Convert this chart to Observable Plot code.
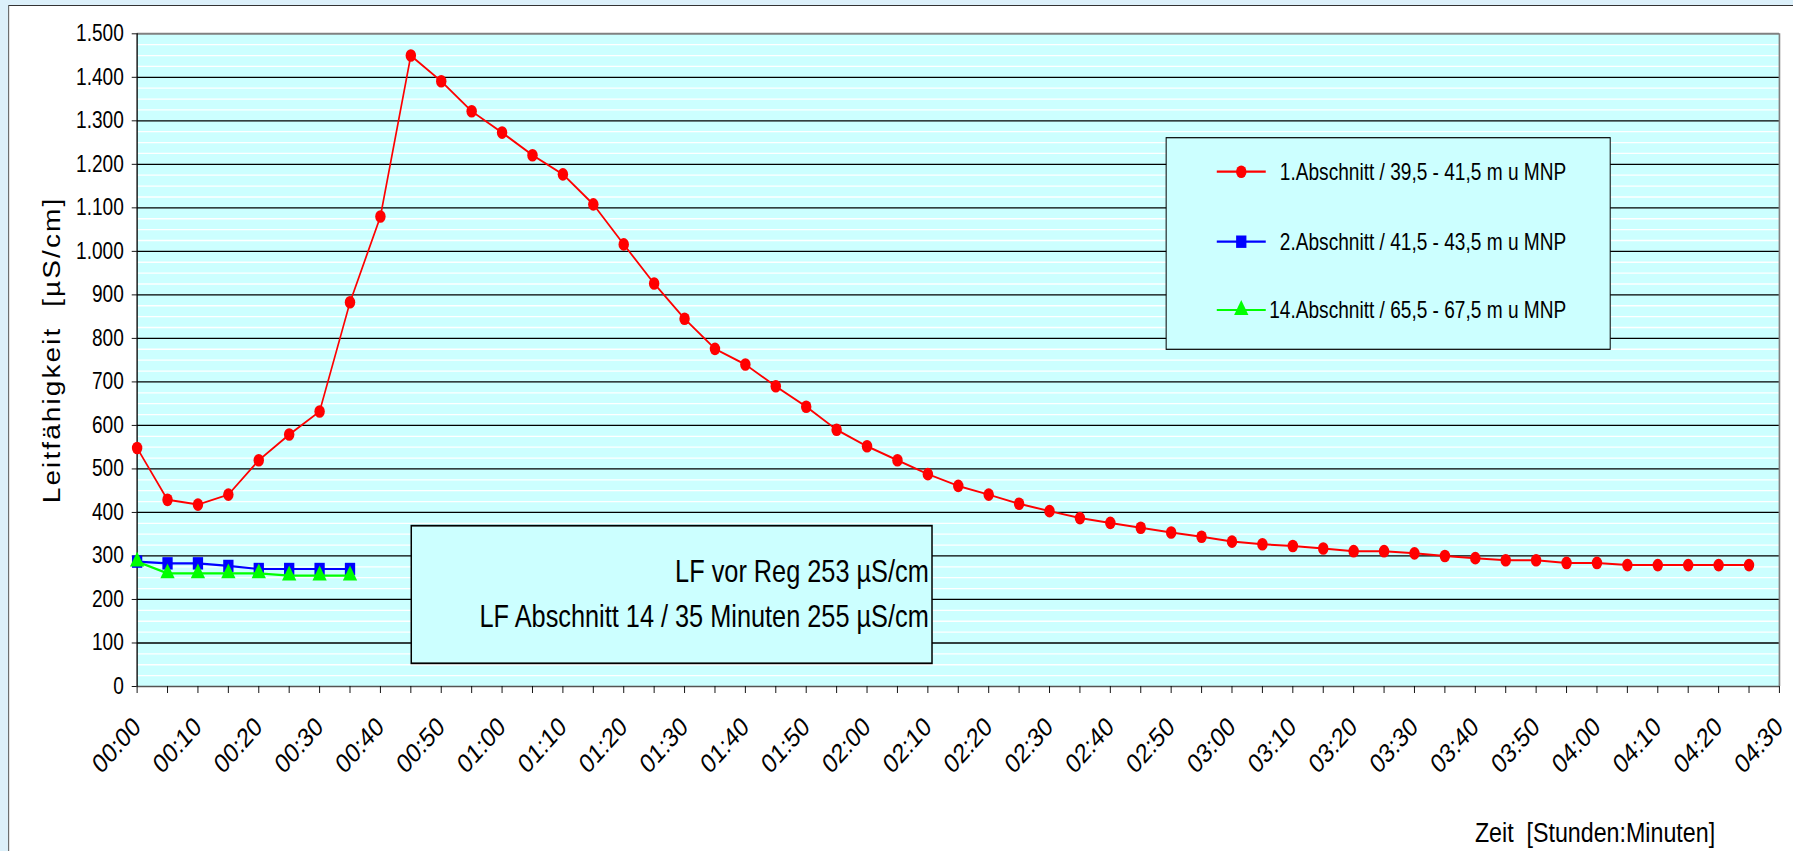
<!DOCTYPE html>
<html>
<head>
<meta charset="utf-8">
<script src="https://cdn.jsdelivr.net/npm/d3@7"></script>
<script src="https://cdn.jsdelivr.net/npm/@observablehq/plot@0.6"></script>
<style>
  html, body { margin: 0; padding: 0; width: 1793px; height: 851px; overflow: hidden; background: #dcf0fa; }
  #stage { position: absolute; left: 0; top: 0; width: 2160px; height: 851px; transform: scaleX(0.83); transform-origin: 0 0; font-family: "Liberation Sans", Arial, sans-serif; }
  #panel { position: absolute; left: 10.4px; top: 5px; right: -20px; bottom: -20px; background: #ffffff; border: 1px solid #333; }
  #chart { position: absolute; left: 0; top: 0; width: 2160px; height: 851px; }
  #overlay { position: absolute; left: 0; top: 0; }
</style>
</head>
<body>
<div id="stage">
  <div id="panel"></div>
  <div id="chart"></div>
  <svg id="overlay" width="2160" height="851" viewBox="0 0 2160 851"></svg>
</div>
<script>
// ---------- data ----------
const zeit = ["00:00","00:05","00:10","00:15","00:20","00:25","00:30","00:35","00:40","00:45",
              "00:50","00:55","01:00","01:05","01:10","01:15","01:20","01:25","01:30","01:35",
              "01:40","01:45","01:50","01:55","02:00","02:05","02:10","02:15","02:20","02:25",
              "02:30","02:35","02:40","02:45","02:50","02:55","03:00","03:05","03:10","03:15",
              "03:20","03:25","03:30","03:35","03:40","03:45","03:50","03:55","04:00","04:05",
              "04:10","04:15","04:20","04:25"];
const abschnitt1 = [548,429,418,441,520,579,632,883,1080,1450,
                    1391,1322,1273,1221,1177,1108,1016,926,845,776,
                    740,690,643,590,552,520,488,461,441,420,
                    403,387,376,365,354,344,333,327,323,317,
                    311,311,306,300,295,290,290,284,284,279,
                    279,279,279,279];
const abschnitt2 = [287,283,283,277,270,270,270,270];
const abschnitt14 = [287,260,260,260,260,255,255,255];
const seriesNames = ["1.Abschnitt / 39,5 - 41,5 m u MNP", "2.Abschnitt / 41,5 - 43,5 m u MNP", "14.Abschnitt / 65,5 - 67,5 m u MNP"];
const xTickLabels = ["00:00","00:10","00:20","00:30","00:40","00:50","01:00","01:10","01:20","01:30",
                     "01:40","01:50","02:00","02:10","02:20","02:30","02:40","02:50","03:00","03:10",
                     "03:20","03:30","03:40","03:50","04:00","04:10","04:20","04:30"];
const yTicks = [0,100,200,300,400,500,600,700,800,900,1000,1100,1200,1300,1400,1500];
const noteLines = ["LF vor Reg 253 µS/cm", "LF Abschnitt 14 / 35 Minuten 255 µS/cm"];
const yTitle = "Leitfähigkeit  [µS/cm]";
const xTitle = "Zeit  [Stunden:Minuten]";

// ---------- helpers ----------
const toMin = s => { const [h, m] = s.split(":").map(Number); return h * 60 + m; };
const rows = vals => vals.map((v, i) => ({t: toMin(zeit[i]), v}));
const s1 = rows(abschnitt1), s2 = rows(abschnitt2), s3 = rows(abschnitt14);
const fmtY = d3.formatLocale({decimal: ",", thousands: ".", grouping: [3], currency: ["", " €"]}).format(",");
const labelMin = xTickLabels.map(toMin);
const labelOf = new Map(labelMin.map((m, i) => [m, xTickLabels[i]]));
const xMax = labelMin[labelMin.length - 1];
const minorTicks = d3.range(0, xMax + 1, 5);
const yMax = yTicks[yTicks.length - 1];
const majorGrid = yTicks.filter(v => v > 0 && v < yMax);
const minorGrid = d3.range(25, yMax, 25).filter(v => v % 100 !== 0);

const W = 2160, H = 851;
const RED = "#ff0000", BLUE = "#0000ff", GREEN = "#00ff00";

const chart = Plot.plot({
  width: W, height: H,
  marginLeft: 164.7, marginRight: W - 2143.4, marginTop: 33.3, marginBottom: 165,
  x: {domain: [0, xMax]},
  y: {domain: [0, yMax]},
  style: {background: "transparent", overflow: "visible", maxWidth: "none", fontFamily: "'Liberation Sans', Arial, sans-serif", color: "#000"},
  marks: [
    Plot.frame({fill: "#ccffff", stroke: null}),
    Plot.ruleY(minorGrid, {stroke: "#ffffff", strokeWidth: 1.3}),
    Plot.ruleY(majorGrid, {stroke: "#000000", strokeWidth: 1.3}),
    Plot.ruleY([yMax], {stroke: "#808080", strokeWidth: 2}),
    Plot.ruleX([xMax], {stroke: "#808080", strokeWidth: 2}),
    Plot.ruleY([0], {stroke: "#555", strokeWidth: 1.6}),
    Plot.ruleX([0], {stroke: "#000", strokeWidth: 1.6}),
    Plot.axisY({ticks: yTicks, tickFormat: fmtY, tickSize: 6, tickPadding: 10, fontSize: 23, label: null}),
    Plot.axisX({ticks: minorTicks, tickSize: 7, tickFormat: () => "", label: null}),
    Plot.axisX({ticks: labelMin, tickFormat: d => labelOf.get(d), tickSize: 0, tickRotate: -43, tickPadding: 36, fontSize: 27, label: null}),
    Plot.line(s1, {x: "t", y: "v", stroke: RED, strokeWidth: 2}),
    Plot.dot(s1, {x: "t", y: "v", r: 6.3, fill: RED, symbol: "circle"}),
    Plot.line(s2, {x: "t", y: "v", stroke: BLUE, strokeWidth: 2.2}),
    Plot.dot(s2, {x: "t", y: "v", r: 7, fill: BLUE, symbol: "square"}),
    Plot.line(s3, {x: "t", y: "v", stroke: GREEN, strokeWidth: 2.2}),
    Plot.dot(s3, {x: "t", y: "v", r: 6.4, fill: GREEN, symbol: "triangle"})
  ]
});
document.getElementById("chart").appendChild(chart);

// ---------- overlay: titles, legend, note box ----------
const ov = d3.select("#overlay").style("font-family", "'Liberation Sans', Arial, sans-serif");
// y title
ov.append("text").attr("transform", "translate(72,350) rotate(-90)")
  .attr("text-anchor", "middle").attr("font-size", 28).attr("letter-spacing", 2.1)
  .style("white-space", "pre").text(yTitle);
// x title
ov.append("text").attr("x", 1777).attr("y", 842).attr("font-size", 28)
  .style("white-space", "pre").text(xTitle);

// legend
const lg = ov.append("g");
lg.append("rect").attr("x", 1405).attr("y", 137.7).attr("width", 535).attr("height", 211.6)
  .attr("fill", "#ccffff").attr("stroke", "#000").attr("stroke-width", 1.2);
const legendRows = [
  {name: seriesNames[0], color: RED, sym: d3.symbolCircle, r: 6.3, y: 171.7},
  {name: seriesNames[1], color: BLUE, sym: d3.symbolSquare, r: 7, y: 241.7},
  {name: seriesNames[2], color: GREEN, sym: d3.symbolTriangle, r: 6.4, y: 310}
];
for (const row of legendRows) {
  lg.append("line").attr("x1", 1466).attr("x2", 1525).attr("y1", row.y).attr("y2", row.y)
    .attr("stroke", row.color).attr("stroke-width", 2.2);
  lg.append("path").attr("transform", `translate(1495.5,${row.y})`)
    .attr("d", d3.symbol(row.sym, row.r * row.r * Math.PI)()).attr("fill", row.color);
  lg.append("text").attr("x", 1887).attr("y", row.y + 8).attr("text-anchor", "end")
    .attr("font-size", 23).text(row.name);
}

// note box
const nb = ov.append("g");
nb.append("rect").attr("x", 495.5).attr("y", 525.7).attr("width", 627.4).attr("height", 137.6)
  .attr("fill", "#ccffff").attr("stroke", "#000").attr("stroke-width", 1.8);
nb.append("text").attr("x", 1119).attr("y", 581.7).attr("text-anchor", "end").attr("font-size", 30.5).text(noteLines[0]);
nb.append("text").attr("x", 1119).attr("y", 626.7).attr("text-anchor", "end").attr("font-size", 30.5).text(noteLines[1]);
</script>
</body>
</html>
